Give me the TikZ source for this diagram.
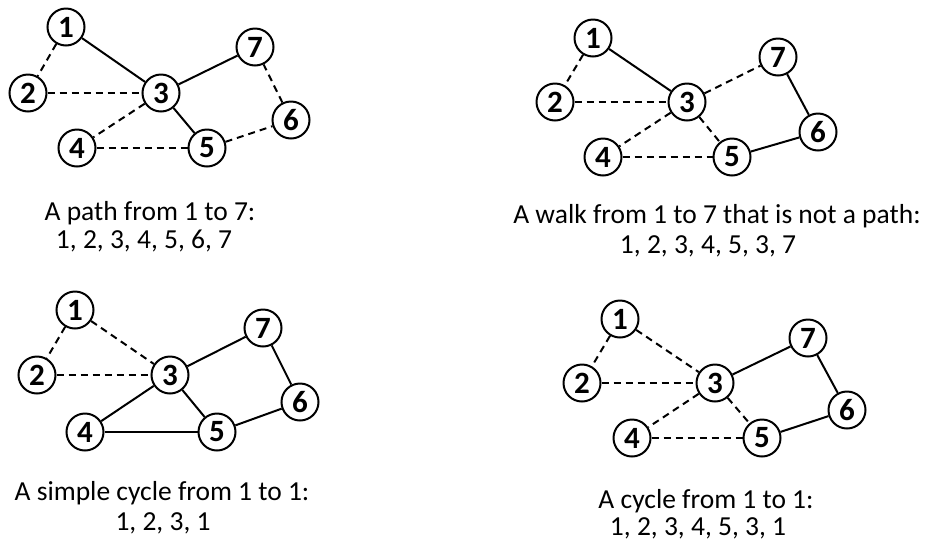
\documentclass[tikz,border=0pt]{standalone}
\usepackage{fontspec}
\setmainfont{Carlito}
\usepackage{xcolor}

\tikzset{
  vertex/.style={draw, circle, line width=2pt, minimum size=37pt, inner sep=0pt,
                 font=\fontsize{31}{31}\selectfont\bfseries},
  solidedge/.style={line width=2pt},
  dashedge/.style={line width=2pt, dash pattern=on 7pt off 5pt},
  caption/.style={anchor=base, inner sep=0pt, font=\fontsize{27.5}{30}\selectfont}
}

\begin{document}
\begin{tikzpicture}[x=1pt, y=-1pt]
    \useasboundingbox (0,0) rectangle (931,550);

    % Grafo in alto a sinistra: cammino
    \foreach \n/\x/\y in {1/66/27, 2/28/93, 3/161/93, 4/77/148, 5/207/148, 6/291/120, 7/255/47}
        \node[vertex] (a\n) at (\x,\y) {\n};
    \foreach \u/\v in {1/3, 3/7, 3/5}
        \draw[solidedge] (a\u) -- (a\v);
    \foreach \u/\v in {1/2, 2/3, 3/4, 4/5, 5/6, 6/7}
        \draw[dashedge] (a\u) -- (a\v);
    \node[caption] (capa1) at (150,220) {A path from 1 to 7:};
    \node[caption] (capa2) at (144,248) {1, 2, 3, 4, 5, 6, 7};

    % Grafo in alto a destra: passeggiata
    \foreach \n/\x/\y in {1/593/38, 2/555/102, 3/687/102, 4/603/157, 5/732/157, 6/818/132, 7/778/57}
        \node[vertex] (b\n) at (\x,\y) {\n};
    \foreach \u/\v in {1/3, 7/6, 6/5}
        \draw[solidedge] (b\u) -- (b\v);
    \foreach \u/\v in {1/2, 2/3, 3/7, 3/4, 4/5, 3/5}
        \draw[dashedge] (b\u) -- (b\v);
    \node[caption] (capb1) at (717,223) {A walk from 1 to 7 that is not a path:};
    \node[caption] (capb2) at (708,253) {1, 2, 3, 4, 5, 3, 7};

    % Grafo in basso a sinistra: ciclo semplice
    \foreach \n/\x/\y in {1/75/310, 2/37/375, 3/170/375, 4/85/432, 5/217/432, 6/300/402, 7/263/328}
        \node[vertex] (c\n) at (\x,\y) {\n};
    \foreach \u/\v in {3/7, 7/6, 6/5, 3/4, 4/5, 3/5}
        \draw[solidedge] (c\u) -- (c\v);
    \foreach \u/\v in {1/2, 2/3, 1/3}
        \draw[dashedge] (c\u) -- (c\v);
    \node[caption] (capc1) at (162,500) {A simple cycle from 1 to 1:};
    \node[caption] (capc2) at (163,530) {1, 2, 3, 1};

    % Grafo in basso a destra: ciclo
    \foreach \n/\x/\y in {1/620/319, 2/582/383, 3/715/383, 4/632/438, 5/762/438, 6/847/410, 7/808/338}
        \node[vertex] (d\n) at (\x,\y) {\n};
    \foreach \u/\v in {3/7, 7/6, 6/5}
        \draw[solidedge] (d\u) -- (d\v);
    \foreach \u/\v in {1/2, 1/3, 2/3, 3/4, 4/5, 3/5}
        \draw[dashedge] (d\u) -- (d\v);
    \node[caption] (capd1) at (706,508) {A cycle from 1 to 1:};
    \node[caption] (capd2) at (698,535) {1, 2, 3, 4, 5, 3, 1};
\end{tikzpicture}
\end{document}
